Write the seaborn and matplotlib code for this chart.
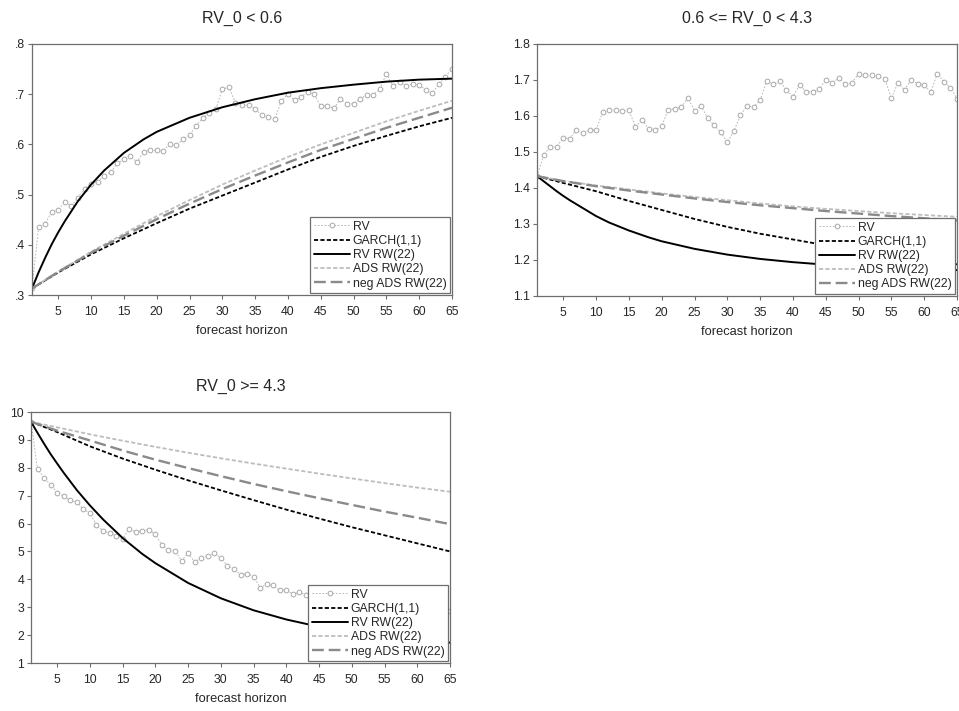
import matplotlib
matplotlib.use("Agg")
import matplotlib.pyplot as plt
from matplotlib.ticker import FuncFormatter, MultipleLocator
import seaborn as sns

sns.set_theme(style="white")
plt.rcParams["font.family"] = ["Liberation Sans", "DejaVu Sans"]
plt.rcParams["lines.scale_dashes"] = False

# Forecast horizons
h_rv = list(range(1, 66))
h_fast = [1, 2, 3, 4, 5, 6, 8, 10, 12, 15, 18, 20, 25, 30, 35, 40, 45, 50, 55, 60, 65]
h_slow = [1, 5, 10, 15, 20, 25, 30, 35, 40, 45, 50, 55, 60, 65]

# ---- RV_0 < 0.6 ----
rv_low = [0.313, 0.435, 0.442, 0.465, 0.470, 0.485, 0.478, 0.494, 0.512, 0.522,
          0.526, 0.537, 0.545, 0.562, 0.570, 0.576, 0.565, 0.585, 0.589, 0.588,
          0.587, 0.601, 0.598, 0.610, 0.618, 0.637, 0.652, 0.662, 0.670, 0.710,
          0.714, 0.683, 0.678, 0.679, 0.670, 0.659, 0.654, 0.650, 0.687, 0.700,
          0.688, 0.694, 0.705, 0.700, 0.676, 0.676, 0.672, 0.690, 0.681, 0.681,
          0.690, 0.699, 0.699, 0.710, 0.741, 0.716, 0.724, 0.717, 0.720, 0.719,
          0.708, 0.702, 0.720, 0.735, 0.751]
garch_low = [0.313, 0.345, 0.381, 0.413, 0.443, 0.472, 0.498, 0.524, 0.550, 0.575,
             0.597, 0.617, 0.636, 0.653]
rvrw_low = [0.313, 0.345, 0.374, 0.401, 0.425, 0.447, 0.487, 0.520, 0.548, 0.583,
            0.610, 0.625, 0.653, 0.674, 0.690, 0.703, 0.712, 0.719, 0.725, 0.729, 0.731]
ads_low = [0.313, 0.347, 0.386, 0.422, 0.457, 0.489, 0.520, 0.548, 0.575, 0.600,
           0.623, 0.646, 0.667, 0.687]
negads_low = [0.313, 0.346, 0.384, 0.418, 0.451, 0.482, 0.511, 0.538, 0.564, 0.589,
              0.611, 0.633, 0.653, 0.673]

# ---- 0.6 <= RV_0 < 4.3 ----
rv_mid = [1.433, 1.491, 1.514, 1.514, 1.540, 1.537, 1.562, 1.552, 1.561, 1.561,
          1.610, 1.617, 1.618, 1.613, 1.616, 1.570, 1.590, 1.564, 1.561, 1.571,
          1.618, 1.620, 1.624, 1.650, 1.615, 1.628, 1.595, 1.574, 1.555, 1.527,
          1.558, 1.602, 1.629, 1.624, 1.644, 1.697, 1.688, 1.696, 1.672, 1.654,
          1.686, 1.668, 1.667, 1.675, 1.700, 1.693, 1.705, 1.688, 1.691, 1.718,
          1.713, 1.714, 1.710, 1.704, 1.649, 1.693, 1.672, 1.700, 1.690, 1.685,
          1.667, 1.718, 1.695, 1.679, 1.648]
garch_mid = [1.433, 1.414, 1.391, 1.364, 1.339, 1.314, 1.292, 1.273, 1.257, 1.241,
             1.227, 1.213, 1.200, 1.188]
rvrw_mid = [1.433, 1.419, 1.405, 1.391, 1.378, 1.366, 1.344, 1.322, 1.304, 1.282,
            1.263, 1.252, 1.231, 1.215, 1.203, 1.194, 1.187, 1.181, 1.177, 1.174, 1.172]
ads_mid = [1.433, 1.420, 1.407, 1.396, 1.385, 1.375, 1.366, 1.357, 1.349, 1.342,
           1.336, 1.330, 1.325, 1.320]
negads_mid = [1.433, 1.419, 1.405, 1.393, 1.382, 1.371, 1.361, 1.352, 1.344, 1.336,
              1.329, 1.322, 1.316, 1.310]

# ---- RV_0 >= 4.3 ----
rv_high = [9.65, 7.94, 7.64, 7.39, 7.10, 6.98, 6.83, 6.77, 6.51, 6.38,
           5.94, 5.75, 5.65, 5.57, 5.46, 5.80, 5.70, 5.75, 5.77, 5.62,
           5.22, 5.05, 5.02, 4.67, 4.93, 4.62, 4.78, 4.83, 4.93, 4.78,
           4.47, 4.38, 4.17, 4.20, 4.10, 3.70, 3.83, 3.78, 3.60, 3.62,
           3.47, 3.53, 3.45, 3.42, 3.38, 3.35, 3.30, 3.32, 3.25, 3.20,
           3.22, 3.15, 3.10, 3.12, 3.05, 3.00, 3.02, 2.98, 2.95, 2.92,
           2.95, 2.90, 2.88, 2.85, 2.86]
garch_high = [9.65, 9.28, 8.77, 8.33, 7.93, 7.55, 7.19, 6.84, 6.50, 6.18,
              5.87, 5.58, 5.29, 5.00]
rvrw_high = [9.65, 9.25, 8.86, 8.49, 8.15, 7.82, 7.20, 6.65, 6.15, 5.48,
             4.91, 4.58, 3.87, 3.32, 2.89, 2.56, 2.30, 2.10, 1.95, 1.83, 1.73]
ads_high = [9.65, 9.45, 9.20, 8.97, 8.75, 8.54, 8.34, 8.15, 7.97, 7.79,
            7.62, 7.45, 7.29, 7.14]
negads_high = [9.65, 9.33, 8.98, 8.62, 8.29, 7.99, 7.70, 7.42, 7.16, 6.91,
               6.67, 6.43, 6.21, 5.98]

titles = ["RV_0 < 0.6", "0.6 <= RV_0 < 4.3", "RV_0 >= 4.3"]
x_ticks = list(range(5, 70, 5))

fig = plt.figure(figsize=(9.59, 7.11), dpi=100)
ax1 = fig.add_axes([32 / 959, 1 - 295 / 711, 420 / 959, 251 / 711])
ax2 = fig.add_axes([537 / 959, 1 - 296 / 711, 420 / 959, 252 / 711])
ax3 = fig.add_axes([31 / 959, 1 - 663 / 711, 419 / 959, 251 / 711])

panels = [
    (ax1, rv_low, garch_low, rvrw_low, ads_low, negads_low, (0.3, 0.8), 0.1,
     lambda v, p: f"{v:.1f}".lstrip("0")),
    (ax2, rv_mid, garch_mid, rvrw_mid, ads_mid, negads_mid, (1.1, 1.8), 0.1,
     lambda v, p: f"{v:.1f}"),
    (ax3, rv_high, garch_high, rvrw_high, ads_high, negads_high, (1, 10), 1,
     lambda v, p: f"{v:.0f}"),
]

edge = "#6e6e6e"
for (ax, rv, garch, rvrw, ads, negads, ylim, step, fmt), title in zip(panels, titles):
    sns.lineplot(x=h_rv, y=rv, ax=ax, color="#b8b8b8", linewidth=0.7,
                 linestyle=(0, (1.2, 1.2)), marker="o", markersize=3.4,
                 markerfacecolor="white", markeredgecolor="#a8a8a8",
                 markeredgewidth=0.7, label="RV")
    sns.lineplot(x=h_slow, y=garch, ax=ax, color="black", linewidth=1.3,
                 linestyle=(0, (3.0, 1.6)), label="GARCH(1,1)")
    sns.lineplot(x=h_fast, y=rvrw, ax=ax, color="black", linewidth=1.4,
                 label="RV RW(22)")
    sns.lineplot(x=h_slow, y=ads, ax=ax, color="#bdbdbd", linewidth=1.3,
                 linestyle=(0, (3.0, 1.6)), label="ADS RW(22)")
    sns.lineplot(x=h_slow, y=negads, ax=ax, color="#8a8a8a", linewidth=1.7,
                 linestyle=(0, (8.5, 3.5)), label="neg ADS RW(22)")

    ax.set_xlim(1, 65)
    ax.set_ylim(*ylim)
    ax.set_xticks(x_ticks)
    ax.yaxis.set_major_locator(MultipleLocator(step))
    ax.yaxis.set_major_formatter(FuncFormatter(fmt))
    ax.tick_params(axis="both", direction="out", length=3, width=0.8,
                   color=edge, labelsize=8.8, pad=2, left=True, bottom=True)
    ax.tick_params(axis="x", pad=5)
    for sp in ax.spines.values():
        sp.set_color(edge)
        sp.set_linewidth(0.9)
    ax.set_xlabel("forecast horizon", fontsize=9.3, labelpad=5)
    ax.set_ylabel("")
    ax.set_title(title, fontsize=11.5, pad=15)
    ax.grid(False)

    leg = ax.legend(loc="lower right", fontsize=8.8, frameon=True, fancybox=False,
                    borderaxespad=0.15, handlelength=3.0, handletextpad=0.2,
                    labelspacing=0.18, borderpad=0.3)
    leg.get_frame().set_edgecolor(edge)
    leg.get_frame().set_linewidth(0.9)
    leg.get_frame().set_facecolor("white")
    leg.get_frame().set_alpha(1)

fig.savefig("out.png", dpi=100)
